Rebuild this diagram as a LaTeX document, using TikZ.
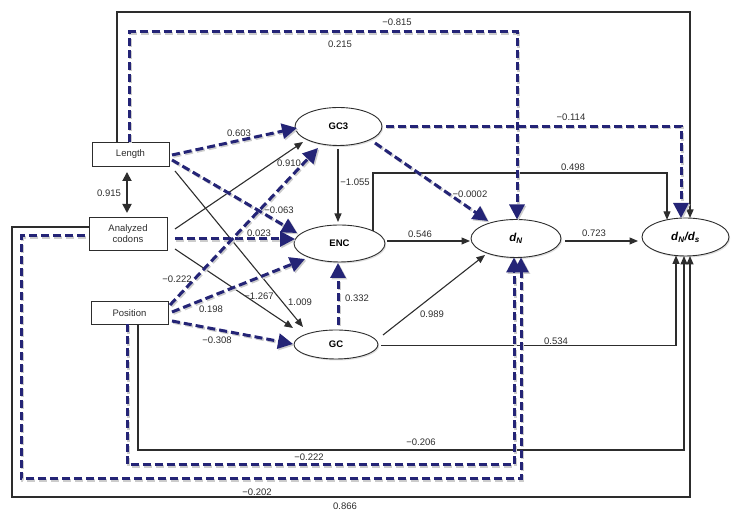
\documentclass[tikz,border=0pt]{standalone}
\usepackage{fontspec}
\setmainfont{Liberation Sans}
\usetikzlibrary{arrows.meta,shapes.geometric,calc,shadows}
\definecolor{navy}{RGB}{36,36,118}
\definecolor{ink}{RGB}{45,45,45}
\begin{document}
\begin{tikzpicture}[x=1pt,y=1pt,
  font=\fontsize{9.5}{11.5}\selectfont,
  boxnode/.style={draw=ink, line width=0.9pt, fill=white, inner sep=0pt, outer sep=0pt, text=ink},
  ell/.style={ellipse, draw=ink, line width=0.9pt, fill=white, inner sep=0pt, outer sep=0pt, text=black,
    font=\fontsize{9.5}{11}\selectfont\bfseries,
    drop shadow={opacity=0.25, shadow xshift=1.2pt, shadow yshift=-1.5pt}},
  dnfont/.style={font=\fontsize{11.5}{13}\selectfont\bfseries\itshape},
  solidedge/.style={draw=ink, line width=1.1pt, -{Triangle[length=8.5pt,width=7pt]}},
  frameedge/.style={draw=ink, line width=1.3pt, -{Triangle[length=8.5pt,width=7pt]}},
  dashedge/.style={draw=navy, line width=3pt, dash pattern=on 8pt off 4pt,
    -{Triangle[length=15pt,width=15pt]},
    preaction={draw=black!20, line width=3pt, dash pattern=on 8pt off 4pt,
      -{Triangle[length=15pt,width=15pt]},
      transform canvas={xshift=1.4pt,yshift=-1.4pt}}},
  twoway/.style={draw=ink, line width=1.8pt, {Triangle[length=9pt,width=9pt]}-{Triangle[length=9pt,width=9pt]}},
  lab/.style={text=ink, inner sep=1pt}
]
\useasboundingbox (0,0) rectangle (745,518);

% nodes
\node[boxnode, minimum width=77pt, minimum height=24pt] (L) at (130.5,364) {Length};
\node[boxnode, minimum width=78pt, minimum height=33pt, align=center] (A) at (128,284.5) {Analyzed\\codons};
\node[boxnode, minimum width=77pt, minimum height=23pt] (P) at (129.5,205) {Position};
\node[ell, minimum width=87pt, minimum height=38pt] (GC3) at (338.5,391.5) {GC3};
\node[ell, minimum width=91pt, minimum height=37pt] (ENC) at (339.5,274.5) {ENC};
\node[ell, minimum width=84pt, minimum height=29pt] (GC) at (336,173.5) {GC};
\node[ell, dnfont, minimum width=90pt, minimum height=38pt] (dN) at (516,279.5) {d\textsubscript{N}};
\node[ell, dnfont, minimum width=87pt, minimum height=38pt] (dNds) at (685.5,281) {d\textsubscript{N}/d\textsubscript{s}};

% routing levels
\coordinate (yT1) at (0,506);
\coordinate (yT2) at (0,486);
\coordinate (yT3) at (0,345);
\coordinate (yB1) at (0,68);
\coordinate (yB2) at (0,53);
\coordinate (yB3) at (0,39);
\coordinate (yB4) at (0,21);
\coordinate (xL1) at (12,0);
\coordinate (xL2) at (21,0);

% route end points
\coordinate (s17) at ($(L.north)+(-13.5,0)$);
\coordinate (e17) at ($(dNds.north)+(4.5,0)$);
\coordinate (s18) at ($(L.north)+(-1,0)$);
\coordinate (e18) at ($(dN.north)+(1,0)$);
\coordinate (s19) at ($(GC3.east)+(4,0)$);
\coordinate (e19) at ($(dNds.north)+(-4.5,0)$);
\coordinate (s20) at ($(ENC.center)+(33.5,12.5)$);
\coordinate (e20) at ($(dNds.center)+(-18.5,17.2)$);
\coordinate (s21) at ($(GC.east)+(3,-1)$);
\coordinate (e21) at ($(dNds.center)+(-9.5,-18.5)$);
\coordinate (s22) at ($(P.south)+(8.5,0)$);
\coordinate (e22) at ($(dNds.south)+(-1.5,0)$);
\coordinate (s23) at ($(P.south)+(-2.5,0)$);
\coordinate (e23) at ($(dN.south)+(-2,0)$);
\coordinate (s24) at ($(A.west)+(-4,-2.5)$);
\coordinate (e24) at ($(dN.south)+(5,0)$);
\coordinate (s25) at ($(A.west)+(0,6.5)$);
\coordinate (e25) at ($(dNds.south)+(4.5,0)$);

% solid long routes
\draw[frameedge] (s17) -- (s17 |- yT1) -- (e17 |- yT1) -- (e17);
\draw[frameedge] (s25) -- (s25 -| xL1) -- (xL1 |- yB4) -- (e25 |- yB4) -- (e25);
\draw[solidedge] (s20) -- (s20 |- yT3) -- (e20 |- yT3) -- (e20);
\draw[solidedge] (s21) -| (e21);
\draw[solidedge] (s22) -- (s22 |- yB1) -- (e22 |- yB1) -- (e22);

% dashed long routes
\draw[dashedge] (s18) -- (s18 |- yT2) -- (e18 |- yT2) -- (e18);
\draw[dashedge] (s19) -| (e19);
\draw[dashedge] (s23) -- (s23 |- yB2) -- (e23 |- yB2) -- (e23);
\draw[dashedge] (s24) -- (s24 -| xL2) -- (xL2 |- yB3) -- (e24 |- yB3) -- (e24);

% solid diagonal / straight edges
\draw[solidedge] ($(L.center)+(44.5,-17)$) -- ($(GC.center)+(-33,17.5)$);
\draw[solidedge] ($(A.center)+(47,4.5)$) -- ($(GC3.center)+(-35.5,-15.5)$);
\draw[solidedge] ($(A.center)+(47,-15.5)$) -- ($(GC.center)+(-43,16.5)$);
\draw[solidedge] ($(GC.center)+(47,9.5)$) -- ($(dN.center)+(-31,-16.5)$);
\draw[solidedge] ($(ENC.center)+(47.5,2.5)$) -- ($(dN.center)+(-46,-2.5)$);
\draw[solidedge] ($(dN.center)+(49,-2.5)$) -- ($(dNds.center)+(-47.5,-4)$);
\draw[solidedge] ($(GC3.center)+(-0.5,-22.5)$) -- ($(ENC.center)+(-1.5,21.5)$);
\draw[twoway] ($(L.center)+(-3.5,-18)$) -- ($(A.center)+(-1,20.5)$);

% dashed diagonal edges
\draw[dashedge] ($(L.center)+(41.5,-1)$) -- ($(GC3.center)+(-41.5,-1.5)$);
\draw[dashedge] ($(L.center)+(41.5,-6)$) -- ($(ENC.center)+(-42.5,10.5)$);
\draw[dashedge] ($(A.center)+(47,-5.5)$) -- ($(ENC.center)+(-44.5,4.5)$);
\draw[dashedge] ($(P.center)+(40.5,8)$) -- ($(GC3.center)+(-20.5,-21.5)$);
\draw[dashedge] ($(P.center)+(42.5,1)$) -- ($(ENC.center)+(-34.5,-15.5)$);
\draw[dashedge] ($(P.center)+(42.5,-8)$) -- ($(GC.center)+(-43,0.5)$);
\draw[dashedge] ($(GC3.center)+(36.5,-16.5)$) -- ($(dN.center)+(-28,17.5)$);
\draw[dashedge] ($(GC.center)+(2,19.5)$) -- ($(ENC.center)+(-1.5,-19.5)$);

% labels
\node[lab] (l1) at (397,496) {−0.815};
\node[lab] (l2) at (340,474) {0.215};
\node[lab] (l3) at (571,401) {−0.114};
\node[lab] (l4) at (573,351) {0.498};
\node[lab] (l5) at (239,385) {0.603};
\node[lab] (l6) at (289,355) {0.910};
\node[lab] (l7) at (279,308) {−0.063};
\node[lab] (l8) at (259,285) {0.023};
\node[lab] (l9) at (355,336) {−1.055};
\node[lab] (l10) at (470,324) {−0.0002};
\node[lab] (l11) at (109,325) {0.915};
\node[lab] (l12) at (177,239) {−0.222};
\node[lab] (l13) at (259,222) {−1.267};
\node[lab] (l14) at (300,216) {1.009};
\node[lab] (l15) at (211,209) {0.198};
\node[lab] (l16) at (217,178) {−0.308};
\node[lab] (l17) at (357,220) {0.332};
\node[lab] (l18) at (420,284) {0.546};
\node[lab] (l19) at (594,285) {0.723};
\node[lab] (l20) at (432,204) {0.989};
\node[lab] (l21) at (556,177) {0.534};
\node[lab] (l22) at (421,76) {−0.206};
\node[lab] (l23) at (309,61) {−0.222};
\node[lab] (l24) at (257,26) {−0.202};
\node[lab] (l25) at (345,12) {0.866};
\end{tikzpicture}
\end{document}
